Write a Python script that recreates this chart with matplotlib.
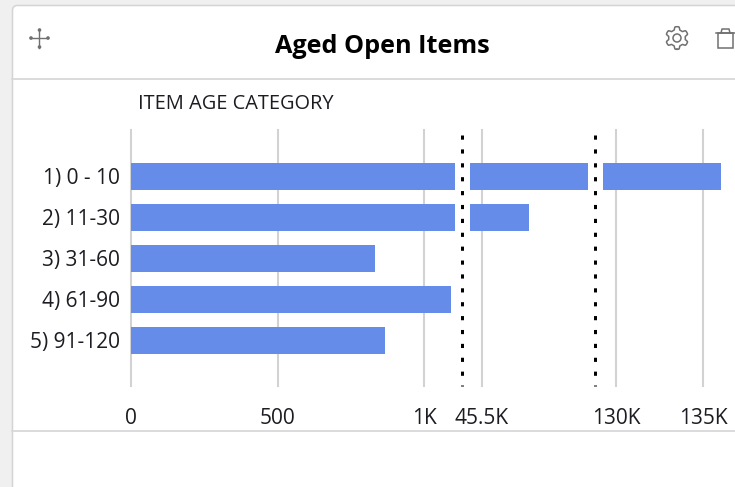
import matplotlib
matplotlib.use("Agg")
import matplotlib.pyplot as plt
from matplotlib.lines import Line2D
from matplotlib.patches import FancyBboxPatch, Circle, Rectangle
import numpy as np

categories = ["1) 0 - 10", "2) 11-30", "3) 31-60", "4) 61-90", "5) 91-120"]
values = [136030, 48200, 830, 1090, 865]
title = "Aged Open Items"
axis_title = "ITEM AGE CATEGORY"
segment_ticks = [[0, 500, 1000], [45500], [130000, 135000]]
segment_labels = [["0", "500", "1K"], ["45.5K"], ["130K", "135K"]]
segment_limits = [(0, 1104), (44810, 51600), (129250, 136030)]

W, H = 735, 487
BAR = "#648CE8"
GRID = "#D2D2D2"
INK = "#1c1c22"
plt.rcParams["font.family"] = ["Open Sans", "DejaVu Sans"]

fig = plt.figure(figsize=(W / 100, H / 100), dpi=100, facecolor="#F0F0F0")

# Dashboard card chrome in pixel coordinates
bg = fig.add_axes([0, 0, 1, 1], zorder=0)
bg.set_xlim(0, W)
bg.set_ylim(H, 0)
bg.axis("off")
bg.add_patch(FancyBboxPatch((12.5, 5.5), W + 30, H + 30, boxstyle="round,pad=0,rounding_size=5",
                            fc="white", ec="#D4D4D4", lw=1.1))
bg.plot([12.5, W], [79, 79], color="#DADADE", lw=1.4)
bg.plot([12.5, W], [431, 431], color="#DADADE", lw=1.4)

ICON = "#707070"
# move icon
bg.plot([30.5, 48.5], [38, 38], color=ICON, lw=1.0)
bg.plot([39.5, 39.5], [29.5, 47.5], color=ICON, lw=1.0)
for x, y in [(31, 38), (48, 38), (39.5, 30), (39.5, 47)]:
    bg.add_patch(Circle((x, y), 1.1, color=ICON))
# gear icon
t = np.linspace(0, 2 * np.pi, 97)
r = 9.8 + 1.5 * np.clip(np.cos(6 * t) * 2.2, -1, 1)
bg.plot(677 + r * np.sin(t), 38 + r * np.cos(t), color=ICON, lw=1.1)
bg.add_patch(Circle((677, 38), 4, fc="none", ec=ICON, lw=1.1))
# trash icon
bg.plot([716, 735], [33, 33], color=ICON, lw=1.1)
bg.plot([721, 722, 729, 730], [33, 29, 29, 33], color=ICON, lw=1.1)
bg.add_patch(Rectangle((718, 33), 15, 15, fc="none", ec=ICON, lw=1.1))

fig.text(382 / W, 1 - 46.5 / H, title, ha="center", va="center",
         fontsize=18.2, fontweight="bold", color="black", zorder=5)
fig.text(138 / W, 1 - 104 / H, axis_title, ha="left", va="center",
         fontsize=14.4, color=INK, zorder=5)

# Segmented value axis
TOP, BOTTOM = 130, 386
spans = [(131, 455), (470, 588), (603, 721)]
rows = np.arange(len(categories))
for i, ((x0, x1), lim, ticks, labels) in enumerate(
        zip(spans, segment_limits, segment_ticks, segment_labels)):
    ax = fig.add_axes([x0 / W, 1 - BOTTOM / H, (x1 - x0) / W, (BOTTOM - TOP) / H],
                      zorder=2, facecolor="none")
    ax.barh(rows, values, height=0.645, color=BAR, zorder=3)
    ax.set_xlim(*lim)
    ax.set_ylim(5.11, -1.134)
    ax.set_xticks(ticks)
    ax.set_xticklabels(labels, fontsize=15, color=INK)
    ax.grid(axis="x", color=GRID, lw=1.5, zorder=1)
    ax.set_axisbelow(True)
    ax.tick_params(axis="x", length=0, pad=16)
    for s in ax.spines.values():
        s.set_visible(False)
    if i == 0:
        ax.set_yticks(rows)
        ax.set_yticklabels(categories, fontsize=15, color=INK)
        ax.tick_params(axis="y", length=0, pad=8)
    else:
        ax.set_yticks([])
    for g in ax.get_xgridlines():
        g.set_clip_on(False)

# Axis break markers
for x in (461.8, 594.8):
    fig.add_artist(Line2D([x / W, x / W], [1 - 135.2 / H, 1 - BOTTOM / H], color="black",
                          lw=2.16, dashes=(1.39, 3.24), dash_capstyle="butt", zorder=6))

fig.savefig("out.png", dpi=100, facecolor=fig.get_facecolor())
